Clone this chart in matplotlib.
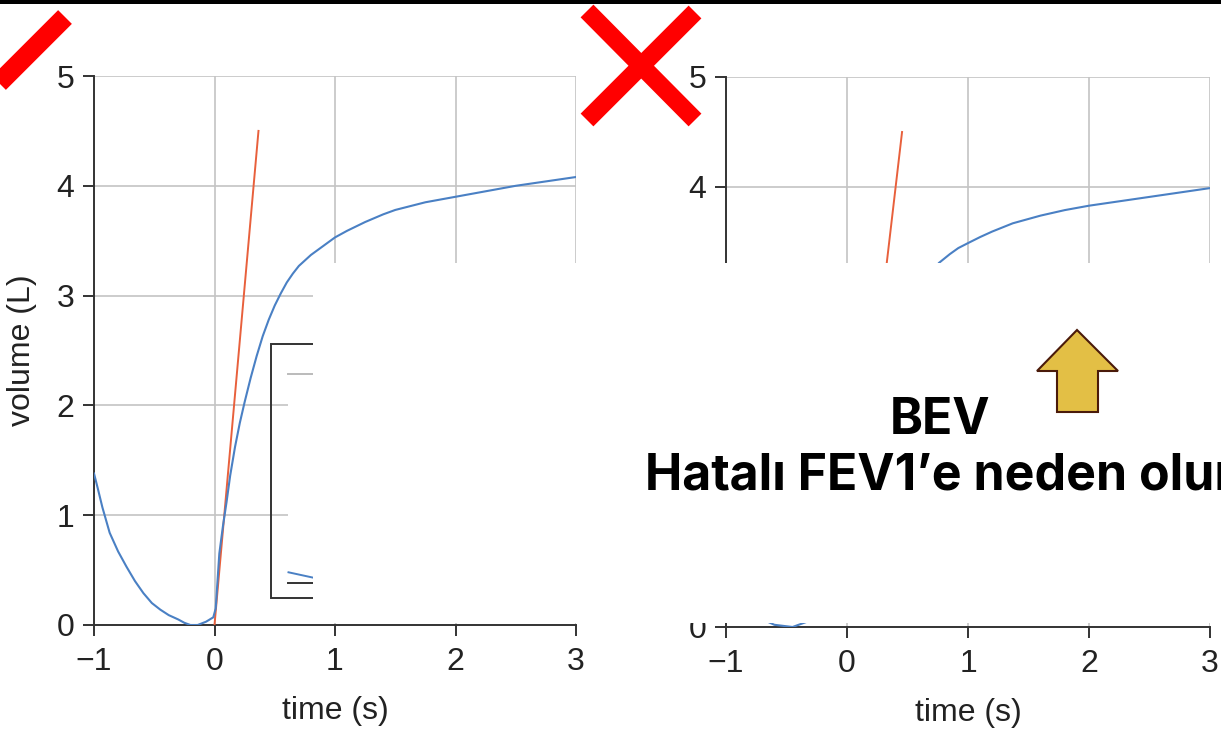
import matplotlib.pyplot as plt
from matplotlib.patches import Rectangle, Polygon
from matplotlib.lines import Line2D

W, H = 1221, 731

# left panel: volume-time trace and its back-extrapolation line
t_left = [-1.0, -0.97, -0.93, -0.87, -0.8, -0.73, -0.66, -0.59, -0.52, -0.45, -0.38,
          -0.3, -0.25, -0.2, -0.14, -0.07, -0.01, 0.01, 0.04, 0.07, 0.1, 0.13, 0.17,
          0.21, 0.25, 0.3, 0.35, 0.4, 0.45, 0.5, 0.55, 0.6, 0.65, 0.7, 0.8, 0.9,
          1.0, 1.1, 1.25, 1.4, 1.5, 1.75, 2.0, 2.5, 3.0]
v_left = [1.38, 1.25, 1.07, 0.84, 0.67, 0.53, 0.4, 0.29, 0.2, 0.14, 0.09,
          0.05, 0.02, 0.0, 0.0, 0.03, 0.07, 0.15, 0.65, 0.9, 1.12, 1.36, 1.62,
          1.84, 2.03, 2.25, 2.45, 2.63, 2.78, 2.91, 3.02, 3.12, 3.2, 3.27, 3.37, 3.45,
          3.53, 3.59, 3.67, 3.74, 3.78, 3.85, 3.9, 4.0, 4.08]
t_left_fit = [0.0, 0.365]
v_left_fit = [0.0, 4.5]

# right panel (lower part is hidden behind the text box)
t_right = [-1.0, -0.8, -0.6, -0.45, -0.3, -0.1, 0.0, 0.1, 0.2, 0.3, 0.4, 0.5,
           0.6, 0.7, 0.76, 0.85, 0.92, 1.0, 1.1, 1.2, 1.37, 1.6, 1.8, 2.0, 2.5, 3.0]
v_right = [0.3, 0.12, 0.02, 0.0, 0.06, 0.15, 0.3, 0.6, 1.1, 1.7, 2.3, 2.75,
           3.05, 3.23, 3.31, 3.39, 3.445, 3.49, 3.545, 3.595, 3.67, 3.74, 3.79, 3.83, 3.91, 3.99]
t_right_fit = [0.03, 0.455]
v_right_fit = [0.5, 4.5]

x_ticks = [-1, 0, 1, 2, 3]
y_ticks = [0, 1, 2, 3, 4, 5]

BLUE = '#4a80c4'
RED = '#e8603c'
DARK = '#333333'


def fx(x):
    return x / W


def fy(y):
    return 1 - y / H


fig = plt.figure(figsize=(W / 100, H / 100), dpi=100)
plt.rcParams['font.family'] = ['Liberation Sans', 'DejaVu Sans']


def panel(x0, x1, y0, y1, t, v, tf, vf, ylabel):
    ax = fig.add_axes([fx(x0), fy(y1), fx(x1 - x0), (y1 - y0) / H])
    ax.plot(tf, vf, color=RED, lw=1.4, zorder=3)
    ax.plot(t, v, color=BLUE, lw=1.5, zorder=3)
    ax.set_xlim(-1, 3)
    ax.set_ylim(0, 5)
    ax.set_xticks(x_ticks)
    ax.set_yticks(y_ticks)
    ax.grid(True, color='#c4c4c4', lw=1.2)
    ax.set_axisbelow(True)
    for s in ['top', 'right']:
        ax.spines[s].set_visible(False)
    for s in ['left', 'bottom']:
        ax.spines[s].set_color(DARK)
        ax.spines[s].set_linewidth(1.4)
    ax.tick_params(direction='out', length=8, width=1.4, color=DARK,
                   labelsize=23, labelcolor='#222222')
    ax.tick_params(axis='x', pad=8)
    ax.tick_params(axis='y', pad=6)
    ax.set_xlabel('time (s)', fontsize=23, color='#222222')
    ax.xaxis.set_label_coords(0.5, -0.13)
    if ylabel:
        ax.set_ylabel('volume (L)', fontsize=23, color='#222222')
        ax.yaxis.set_label_coords(-0.118, 0.5)
    return ax


axl = panel(94, 576, 76, 625, t_left, v_left, t_left_fit, v_left_fit, True)
axr = panel(726, 1210, 77, 627, t_right, v_right, t_right_fit, v_right_fit, False)

# remains of a legend box in the left panel
axl.add_patch(Rectangle((0.614, 0.27), 1.0, 2.27, facecolor='white', edgecolor='none', zorder=2))
axl.add_patch(Rectangle((0.47, 0.25), 1.2, 2.31, facecolor='none', edgecolor=DARK, lw=1.4, zorder=2.5))
axl.plot([0.614, 0.95], [2.29, 2.29], color='#bbbbbb', lw=1.4, zorder=2.6)
axl.plot([0.614, 0.95], [0.48, 0.40], color=BLUE, lw=1.4, zorder=2.6)
axl.plot([0.614, 0.95], [0.38, 0.38], color=DARK, lw=1.4, zorder=2.6)

# white text box covering part of the panels
fig.add_artist(Rectangle((fx(313), fy(623)), fx(W - 313), (623 - 263) / H,
                         transform=fig.transFigure, facecolor='white',
                         edgecolor='none', zorder=10))

# black bar at the top
fig.add_artist(Rectangle((0, fy(4)), 1, 4 / H, transform=fig.transFigure,
                         facecolor='black', edgecolor='none', zorder=11))

# red cross marks
for (xa, ya), (xb, yb), w in [((587, 11), (695, 120), 13),
                              ((587, 120), (695, 12), 13),
                              ((-20, 102), (65, 17), 14)]:
    fig.add_artist(Line2D([fx(xa), fx(xb)], [fy(ya), fy(yb)], transform=fig.transFigure,
                          color='#ff0000', lw=w, solid_capstyle='butt', zorder=12))

# yellow arrow
arrow = [(1077, 330), (1118, 371), (1098, 371), (1098, 412), (1057, 412), (1057, 371), (1037, 371)]
fig.add_artist(Polygon([(fx(a), fy(b)) for a, b in arrow], closed=True,
                       transform=fig.transFigure, facecolor='#e3bf45',
                       edgecolor='#4a1a0a', lw=1.5, zorder=12))

fig.text(fx(940), fy(434), 'BEV', ha='center', va='baseline', fontsize=36,
         fontweight='bold', family=['Inter', 'DejaVu Sans'], color='black', zorder=13)
fig.text(fx(940), fy(490), 'Hatalı FEV1’e neden olur', ha='center', va='baseline',
         fontsize=36, fontweight='bold', family=['Inter', 'DejaVu Sans'], color='black', zorder=13)

fig.savefig('out.png', dpi=100)
